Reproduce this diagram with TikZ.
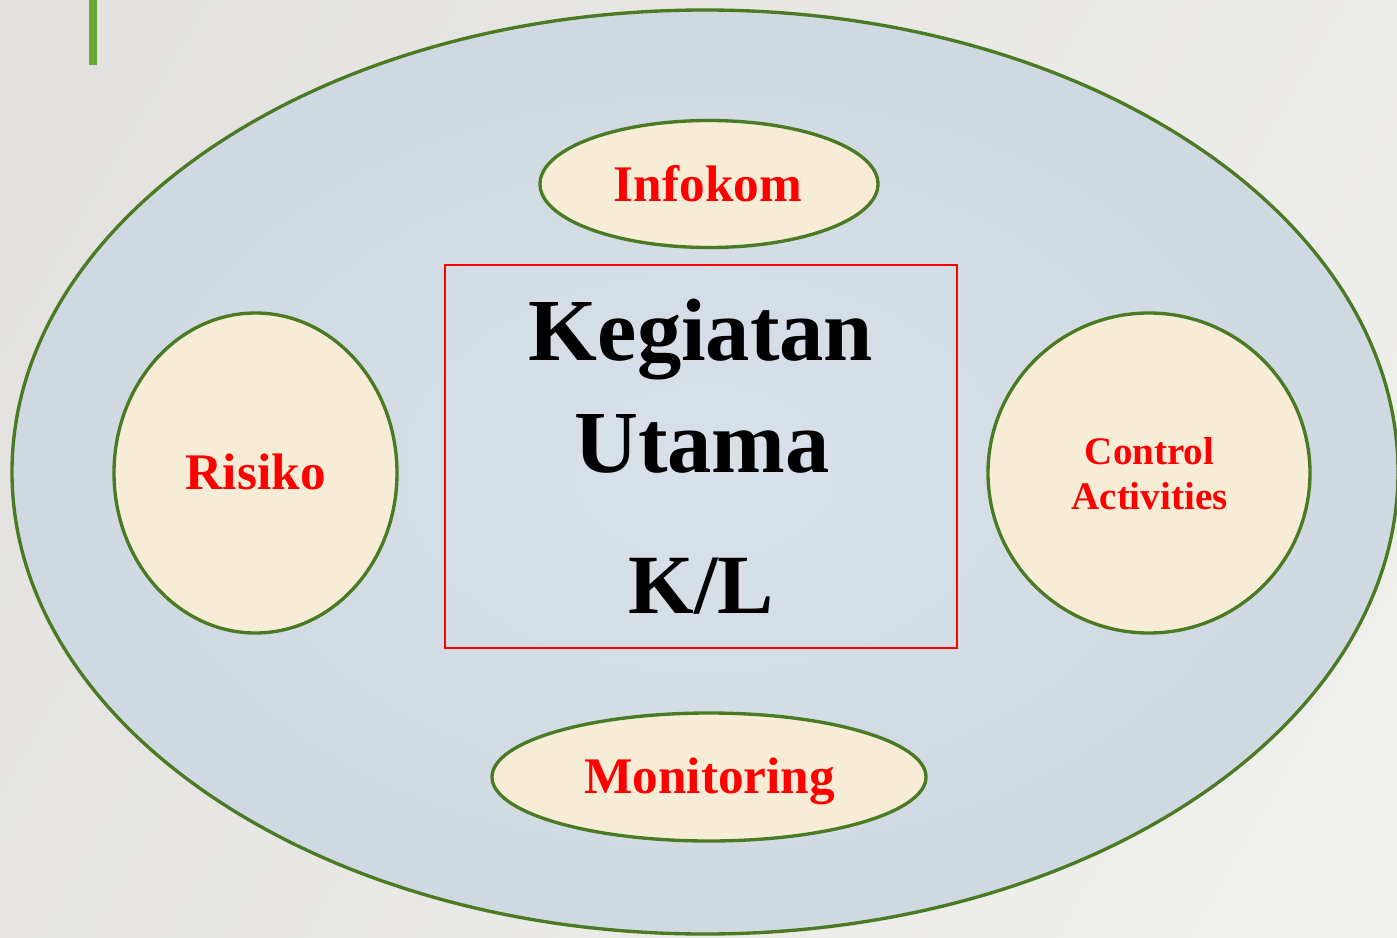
\documentclass[tikz,border=0pt]{standalone}
\usepackage{fontspec}
\setmainfont{Liberation Serif}
\usetikzlibrary{shapes.geometric}
\definecolor{bgA}{HTML}{E3E2DE}
\definecolor{bgB}{HTML}{EFEFEC}
\definecolor{skyIn}{HTML}{D8E1EA}
\definecolor{skyOut}{HTML}{D0D9E2}
\definecolor{cream}{HTML}{F7EDD7}
\definecolor{leaf}{HTML}{4A7A23}
\definecolor{bar}{HTML}{65A833}
\definecolor{hot}{HTML}{FF0000}
\tikzset{
  oval/.style={ellipse, draw=leaf, line width=0.95pt, fill=cream, inner sep=0pt, outer sep=0pt},
  tag/.style={anchor=base, text=hot, font=\bfseries\fontsize{14.6pt}{17pt}\selectfont, inner sep=0pt},
  smalltag/.style={anchor=base, text=hot, font=\bfseries\fontsize{11.1pt}{13pt}\selectfont, inner sep=0pt},
  bigtag/.style={anchor=base, text=black, font=\bfseries\fontsize{25.2pt}{30pt}\selectfont, inner sep=0pt}
}
\begin{document}
\begin{tikzpicture}
\useasboundingbox (0,0) rectangle (13.97,9.37);
\clip (0,0) rectangle (13.97,9.37);
% backdrop
\shade[left color=bgA, right color=bgB, shading angle=60] (-1,-1) rectangle (15,10.5);
\fill[bar] (0.89,8.72) rectangle (0.97,9.4);
% outer field
\node[ellipse, draw=leaf, line width=0.95pt, inner color=skyIn, outer color=skyOut,
      minimum width=13.86cm, minimum height=9.24cm, inner sep=0pt] (field) at (7.05,4.65) {};
% central box
\node[draw=hot, line width=0.6pt, minimum width=5.12cm, minimum height=3.83cm, inner sep=0pt]
  (core) at (7.01,4.805) {};
\node[bigtag] (t1) at (7.01,5.77) {Kegiatan};
\node[bigtag] (t2) at (7.02,4.65) {Utama};
\node[bigtag, font=\bfseries\fontsize{24pt}{30pt}\selectfont] (t3) at (7.015,3.24) {K/L};
% surrounding components
\node[oval, minimum width=3.38cm, minimum height=1.27cm] (info) at (7.09,7.53) {};
\node[tag] (infot) at (7.08,7.36) {Infokom};
\node[oval, minimum width=4.34cm, minimum height=1.28cm] (moni) at (7.09,1.60) {};
\node[tag] (monit) at (7.097,1.44) {Monitoring};
\node[oval, minimum width=2.83cm, minimum height=3.20cm] (risk) at (2.555,4.64) {};
\node[tag] (riskt) at (2.558,4.48) {Risiko};
\node[oval, minimum width=3.22cm, minimum height=3.20cm] (ctrl) at (11.49,4.64) {};
\node[smalltag] (ctrl1) at (11.495,4.73) {Control};
\node[smalltag] (ctrl2) at (11.495,4.28) {Activities};
\end{tikzpicture}
\end{document}
